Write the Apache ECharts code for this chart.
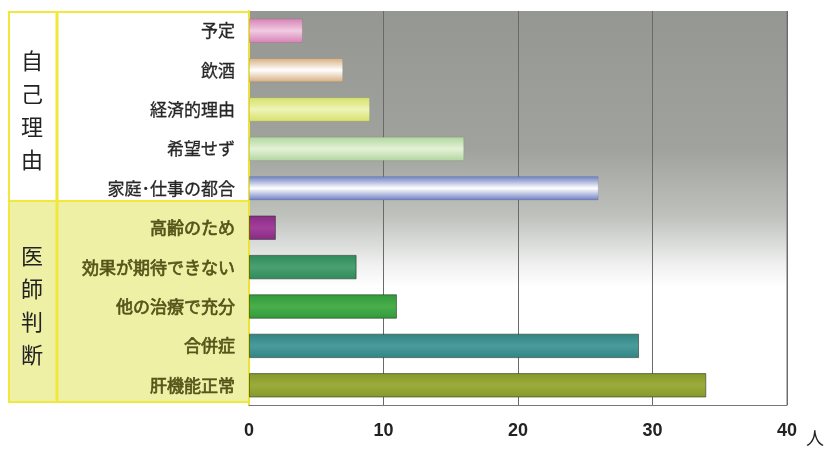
<!DOCTYPE html>
<html><head><meta charset="utf-8">
<script src="https://cdn.jsdelivr.net/npm/echarts@6/dist/echarts.min.js"></script>
<style>html,body{margin:0;padding:0;background:#fff}#c{width:825px;height:449px}</style>
</head><body><div id="c"></div>
<script>
const categories = ['予定','飲酒','経済的理由','希望せず','家庭･仕事の都合','高齢のため','効果が期待できない','他の治療で充分','合併症','肝機能正常'];
const values = [4, 7, 9, 16, 26, 2, 8, 11, 29, 34];
const groupSelf = '自己理由';
const groupDoctor = '医師判断';
const xTicks = [0, 10, 20, 30, 40];
const unitLabel = '人';

const barColors = [
  ['#d880b4','#f0cce2'],
  ['#d4ac7c','#ffffff'],
  ['#d6e068','#eef4b8'],
  ['#b0d69c','#e4f2d8'],
  ['#6a7cc0','#ffffff'],
  ['#8a2a86','#a0409a'],
  ['#2f8a5a','#4aa070'],
  ['#2f9a3a','#4aae4c'],
  ['#2f8484','#4a9c9a'],
  ['#84982a','#9cac3c']
];
const G = echarts.graphic.LinearGradient;
const chart = echarts.init(document.getElementById('c'));
const data = values.map((v,i)=>({
  value: v,
  itemStyle: {
    color: new G(0,0,0,1,[
      {offset:0,color:barColors[i][0]},
      {offset:0.5,color:barColors[i][1]},
      {offset:1,color:barColors[i][0]}
    ]),
    borderColor: i>=5 ? 'rgba(40,60,40,0.6)' : 'rgba(0,0,0,0.08)',
    borderWidth: 1
  }
}));
chart.setOption({
  animation:false,
  grid:{left:249,right:38,top:11,bottom:44,show:true,borderWidth:0,
    backgroundColor:new G(0,0,0,1,[
      {offset:0,color:'#959793'},
      {offset:0.35,color:'#a0a29e'},
      {offset:0.52,color:'#bec1bc'},
      {offset:0.64,color:'#eeefee'},
      {offset:0.7,color:'#ffffff'},
      {offset:1,color:'#ffffff'}
    ])},
  xAxis:{type:'value',min:xTicks[0],max:xTicks[xTicks.length-1],interval:10,
    axisLine:{show:true,lineStyle:{color:'#777',width:1}},
    axisTick:{show:false},
    splitLine:{show:true,lineStyle:{color:'#6a6a6a',width:1}},
    axisLabel:{margin:17,fontSize:18,fontWeight:'bold',color:'#222',fontFamily:'Liberation Sans',
      formatter:v=>xTicks.includes(v)?String(v):''}},
  yAxis:{type:'category',inverse:true,data:categories,
    axisLine:{show:true,lineStyle:{color:'#ece23a',width:2}},
    axisTick:{show:false},
    axisLabel:{margin:14,fontSize:17,fontFamily:'Noto Sans CJK JP',
      formatter:(v,i)=> i>=5 ? '{b|'+v+'}' : '{a|'+v+'}',
      rich:{
        a:{fontSize:17,fontFamily:'Noto Sans CJK JP',color:'#262626',fontWeight:'normal',textBorderColor:'#262626',textBorderWidth:0.3},
        b:{fontSize:17,fontFamily:'Noto Sans CJK JP',color:'#55551a',fontWeight:'normal',textBorderColor:'#55551a',textBorderWidth:0.7}
      }}},
  graphic:[
    {type:'rect',z:-1,shape:{x:9,y:201,width:240,height:201},style:{fill:'#eef0a6'}},
    {type:'rect',z:0,shape:{x:9,y:12,width:240,height:390},style:{fill:'none',stroke:'#f0e83c',lineWidth:2}},
    {type:'line',z:0,shape:{x1:57,y1:12,x2:57,y2:402},style:{stroke:'#f0e83c',lineWidth:3}},
    {type:'line',z:0,shape:{x1:9,y1:201,x2:249,y2:201},style:{stroke:'#f0e83c',lineWidth:2}},
    {type:'text',left:21,top:44,style:{text:groupSelf.split('').join('\n'),fontSize:22,lineHeight:33,fill:'#222',fontFamily:'Noto Sans CJK JP'}},
    {type:'text',left:21,top:239,style:{text:groupDoctor.split('').join('\n'),fontSize:22,lineHeight:33,fill:'#222',fontFamily:'Noto Sans CJK JP'}},
    {type:'text',left:806,top:429,style:{text:unitLabel,fontSize:18,fill:'#222',fontFamily:'Noto Sans CJK JP'}},
    {type:'line',z:0,shape:{x1:787,y1:11,x2:787,y2:405},style:{stroke:'#777',lineWidth:1}}
  ],
  series:[{type:'bar',data:data,barWidth:'62%'}]
});
</script></body></html>
